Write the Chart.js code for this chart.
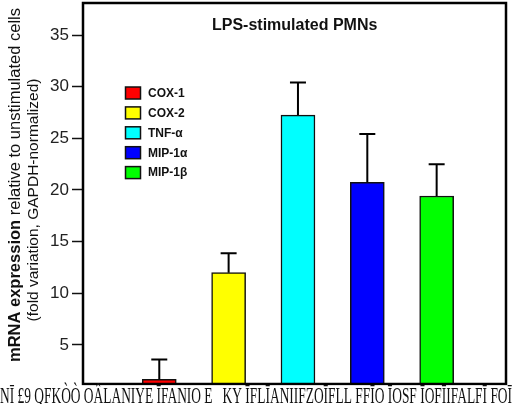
<!DOCTYPE html>
<html>
<head>
<meta charset="utf-8">
<script src="https://cdn.jsdelivr.net/npm/chart.js@4/dist/chart.umd.min.js"></script>
<style>
  body { margin: 0; background: #fff; }
  #chart { display: block; }
</style>
</head>
<body>
<canvas id="chart" width="512" height="404"></canvas>
<script>
// values
var categories = ['COX-1', 'COX-2', 'TNF-\u03b1', 'MIP-1\u03b1', 'MIP-1\u03b2'];
var means = [1.68, 12.0, 27.25, 20.75, 19.42];
var errorTops = [3.6, 13.88, 30.4, 25.43, 22.5];
var barColors = ['#ff0000', '#ffff00', '#00ffff', '#0000ff', '#00ff00'];
var yTicks = [5, 10, 15, 20, 25, 30, 35];
var chartTitle = 'LPS-stimulated PMNs';
var yTitleBold = 'mRNA expression';
var yTitleRest = ' relative to unstimulated cells';
var yTitle2 = '(fold variation, GAPDH-normalized)';
var caption = 'N\u012a \u00a39 QFK\u00d2\u00d2 O\u00c2LANIYE \u012aFANIO E_ KY \u012aFL\u012aANIIFZO\u012aFLL FF\u012aO \u012aOSF \u012aOF\u012aIFALF\u012a FO\u012a';

var FONT = 'Liberation Sans, Arial, sans-serif';

var figurePlugin = {
  id: 'figure',
  afterDatasetsDraw: function(chart) {
    var ctx = chart.ctx;
    var xs = chart.scales.x, ys = chart.scales.y;
    ctx.save();
    ctx.strokeStyle = '#000';
    ctx.lineWidth = 2;
    for (var i = 0; i < means.length; i++) {
      var x = xs.getPixelForValue(i + 1);
      var y0 = ys.getPixelForValue(means[i]);
      var y1 = ys.getPixelForValue(errorTops[i]);
      ctx.beginPath();
      ctx.moveTo(x, y0);
      ctx.lineTo(x, y1);
      ctx.moveTo(x - 8, y1);
      ctx.lineTo(x + 8, y1);
      ctx.stroke();
    }
    ctx.restore();
  },
  afterDraw: function(chart) {
    var ctx = chart.ctx;
    var a = chart.chartArea;
    ctx.save();
    // frame
    ctx.strokeStyle = '#000';
    ctx.lineWidth = 2.5;
    ctx.strokeRect(a.left, a.top, a.right - a.left, a.bottom - a.top);

    // title inside the plot
    ctx.fillStyle = '#111';
    ctx.font = 'bold 16px ' + FONT;
    ctx.textBaseline = 'alphabetic';
    ctx.textAlign = 'left';
    ctx.fillText(chartTitle, 212, 30);

    // legend
    ctx.font = 'bold 12px ' + FONT;
    ctx.textBaseline = 'middle';
    for (var i = 0; i < categories.length; i++) {
      var cy = 93 + i * 19.9;
      ctx.fillStyle = barColors[i];
      ctx.fillRect(125.5, cy - 6, 15, 12);
      ctx.lineWidth = 1.5;
      ctx.strokeStyle = '#111';
      ctx.strokeRect(125.5, cy - 6, 15, 12);
      ctx.fillStyle = '#111';
      ctx.fillText(categories[i], 148, cy + 0.5);
    }

    // y axis title, two rotated lines
    ctx.fillStyle = '#111';
    ctx.textAlign = 'left';
    ctx.save();
    ctx.translate(15, 185);
    ctx.rotate(-Math.PI / 2);
    ctx.font = 'bold 16.5px ' + FONT;
    var wb = ctx.measureText(yTitleBold).width;
    ctx.font = '16.5px ' + FONT;
    var wr = ctx.measureText(yTitleRest).width;
    var start = -(wb + wr) / 2;
    ctx.font = 'bold 16.5px ' + FONT;
    ctx.fillText(yTitleBold, start, 0);
    ctx.font = '16.5px ' + FONT;
    ctx.fillText(yTitleRest, start + wb, 0);
    ctx.restore();

    ctx.save();
    ctx.translate(34, 200);
    ctx.rotate(-Math.PI / 2);
    ctx.font = '15.5px ' + FONT;
    ctx.textAlign = 'center';
    ctx.fillText(yTitle2, 0, 0);
    ctx.restore();

    // garbled strip at the bottom of the picture
    ctx.fillStyle = '#fff';
    ctx.fillRect(0, a.bottom + 1.5, 512, 404 - a.bottom);
    ctx.fillStyle = '#111';
    ctx.font = '24px Liberation Serif, serif';
    ctx.textAlign = 'left';
    ctx.textBaseline = 'alphabetic';
    ctx.fillText(caption, 0, 403, 512);
    ctx.restore();
  }
};

new Chart(document.getElementById('chart').getContext('2d'), {
  type: 'bar',
  data: {
    datasets: [{
      label: 'LPS-stimulated PMNs',
      data: means.map(function(v, i) { return { x: i + 1, y: v }; }),
      backgroundColor: barColors,
      borderColor: '#111',
      borderWidth: 1.5,
      barThickness: 34
    }]
  },
  options: {
    responsive: false,
    animation: false,
    layout: { padding: { top: 3, right: 6, bottom: 20, left: 0 } },
    plugins: {
      legend: { display: false },
      tooltip: { enabled: false }
    },
    scales: {
      x: {
        type: 'linear',
        min: -0.1,
        max: 6,
        offset: false,
        display: false
      },
      y: {
        min: 1.22,
        max: 38.1,
        border: { display: false },
        grid: {
          drawOnChartArea: false,
          drawTicks: true,
          tickLength: 11,
          tickWidth: 1.5,
          tickColor: '#111'
        },
        ticks: {
          color: '#222',
          padding: 3,
          font: { family: FONT, size: 17 }
        },
        afterBuildTicks: function(s) {
          s.ticks = yTicks.map(function(v) { return { value: v }; });
        },
        afterFit: function(s) {
          s.width = 83;
          s.paddingTop = 0;
          s.paddingBottom = 0;
        }
      }
    }
  },
  plugins: [figurePlugin]
});
</script>
</body>
</html>
